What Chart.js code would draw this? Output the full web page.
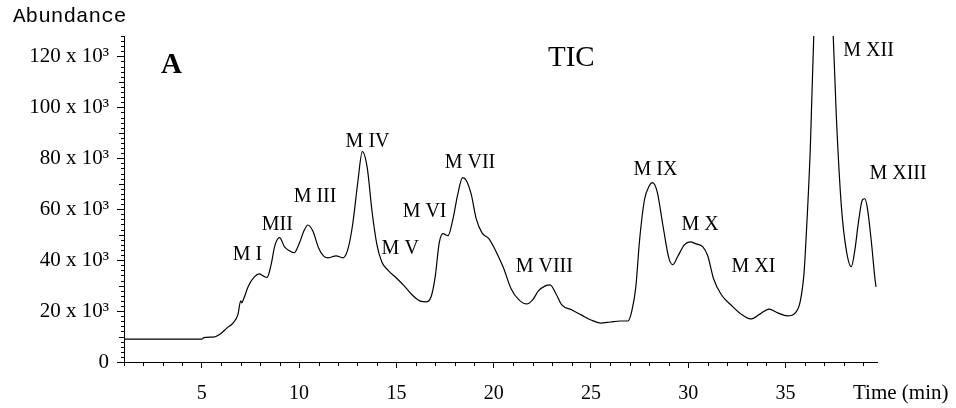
<!DOCTYPE html>
<html>
<head>
<meta charset="utf-8">
<script src="https://cdn.jsdelivr.net/npm/chart.js@4.4.1/dist/chart.umd.min.js"></script>
<style>
  html, body { margin: 0; padding: 0; background: #fff; }
  #wrap { width: 956px; height: 408px; }
</style>
</head>
<body>
<div id="wrap"><canvas id="c" width="956" height="408"></canvas></div>
<script>
// Retention time (min)
const times = [
  1.0, 5.0, 5.1, 5.6, 5.95, 6.3, 6.6, 6.85, 7.0, 7.05, 7.15, 7.4, 7.7, 7.95, 8.15, 8.35,
  8.55, 8.75, 9.0, 9.25, 9.5, 9.75, 10.0, 10.25, 10.45, 10.7, 11.0, 11.25, 11.5, 11.9,
  12.25, 12.5, 12.75, 13.0, 13.25, 13.5, 13.75, 14.0, 14.25, 14.6, 15.0, 15.4, 15.8,
  16.2, 16.55, 16.8, 17.0, 17.2, 17.4, 17.65, 17.9, 18.15, 18.4, 18.6, 18.85, 19.1,
  19.4, 19.75, 20.1, 20.5, 20.9, 21.3, 21.7, 22.0, 22.3, 22.65, 22.9, 23.2, 23.5,
  24.0, 24.5, 25.0, 25.5, 26.0, 26.5, 26.9, 27.1, 27.3, 27.5, 27.75, 28.0, 28.15,
  28.4, 28.7, 29.0, 29.2, 29.45, 29.8, 30.1, 30.4, 30.75, 31.0, 31.3, 31.7, 32.2,
  32.7, 33.2, 33.7, 34.15, 34.6, 35.1, 35.5, 35.75, 35.95, 36.07, 36.27, 36.45, 36.7,
  36.95, 37.2, 37.45, 37.61, 37.87, 38.12, 38.38, 38.55, 38.75, 38.95, 39.07, 39.2,
  39.4, 39.6, 39.65
];
// Total ion current abundance (x 10^3)
const abundance = [
  9.0, 9.0, 9.6, 9.8, 11.0, 13.4, 15.3, 18.5, 24.0, 23.2, 24.8, 29.9, 33.4, 34.6, 33.8, 33.2,
  37.8, 45.6, 48.8, 45.2, 43.7, 42.9, 46.4, 51.5, 53.8, 51.5, 44.8, 41.7, 40.9, 41.7,
  40.9, 44.1, 53.9, 69.6, 82.6, 76.3, 59.0, 46.0, 39.3, 35.8, 33.0, 29.9, 26.4,
  24.0, 23.6, 26.0, 33.8, 46.8, 50.4, 49.6, 55.9, 65.7, 72.4, 71.2, 65.7, 56.3,
  50.7, 48.4, 43.7, 37.0, 28.7, 24.4, 22.8, 24.4, 27.9, 29.9, 30.3, 26.8, 22.4,
  20.5, 18.5, 16.5, 15.3, 15.7, 16.1, 16.1, 20.1, 29.1, 48.0, 63.7, 69.2, 70.4,
  66.9, 53.5, 40.9, 38.2, 41.3, 46.0, 47.2, 46.4, 45.2, 41.7, 32.7, 26.4, 22.4,
  18.9, 16.9, 18.9, 20.8, 19.3, 18.1, 19.3, 23.6, 35.0, 50.7, 83.4, 128.0, 165.0,
  178.0, 165.0, 128.0, 96.4, 61.0, 44.0, 37.4, 43.3, 55.1, 63.7, 64.1, 60.6,
  48.0, 32.3, 29.5
];
// Axis tick settings
const yTickValues = [0, 20, 40, 60, 80, 100, 120];
const xTickValues = [5, 10, 15, 20, 25, 30, 35];
const X_MIN = 1, X_MAX = 39.7, Y_MIN = 0, Y_MAX = 128;
// Peak annotations (label, time, abundance at label baseline-left)
const peakNames = ['M I', 'MII', 'M III', 'M IV', 'M V', 'M VI', 'M VII', 'M VIII', 'M IX', 'M X', 'M XI', 'M XII', 'M XIII'];
const peakTimes = [6.59, 8.08, 9.72, 12.39, 14.24, 15.32, 17.48, 21.13, 27.19, 29.65, 32.22, 37.97, 39.31];
const peakLevels = [40.1, 51.9, 62.9, 84.6, 42.5, 57.0, 76.3, 35.4, 73.6, 51.9, 35.4, 120.0, 72.0];

const SERIF = '"Liberation Serif", "Times New Roman", serif';

const points = times.map((t, i) => ({ x: t, y: abundance[i] }));

const decor = {
  id: 'decor',
  afterDraw(chart) {
    const { ctx, chartArea, scales } = chart;
    const x = scales.x, y = scales.y;
    ctx.save();
    ctx.strokeStyle = '#000';
    ctx.lineWidth = 1;
    ctx.beginPath();
    for (let v = Y_MIN; v <= Y_MAX; v += 2) {
      if (v % 20 === 0) continue;
      const len = v % 10 === 0 ? 5 : 3;
      const py = Math.round(y.getPixelForValue(v)) + 0.5;
      ctx.moveTo(chartArea.left - len, py);
      ctx.lineTo(chartArea.left, py);
    }
    for (let t = 1; t <= 39; t++) {
      if (t % 5 === 0) continue;
      const px = Math.round(x.getPixelForValue(t)) + 0.5;
      ctx.moveTo(px, chartArea.bottom);
      ctx.lineTo(px, chartArea.bottom + 4);
    }
    ctx.stroke();

    ctx.fillStyle = '#000';
    ctx.textBaseline = 'alphabetic';
    ctx.textAlign = 'left';
    ctx.font = '20px ' + SERIF;
    peakNames.forEach((name, i) => {
      ctx.fillText(name, x.getPixelForValue(peakTimes[i]), y.getPixelForValue(peakLevels[i]));
    });

    ctx.font = '21px "Liberation Mono", "DejaVu Sans Mono", monospace';
    ctx.fillText('Abundance', 13, 22);
    ctx.font = 'bold 29px ' + SERIF;
    ctx.fillText('A', 161, 73);
    ctx.font = '29px ' + SERIF;
    ctx.fillText('TIC', 548, 66);
    ctx.font = '21px ' + SERIF;
    ctx.fillText('Time (min)', 853, 399);
    ctx.restore();
  }
};

new Chart(document.getElementById('c'), {
  type: 'line',
  data: {
    datasets: [{
      data: points,
      borderColor: '#000',
      borderWidth: 1.2,
      pointRadius: 0,
      fill: false,
      cubicInterpolationMode: 'monotone'
    }]
  },
  options: {
    responsive: false,
    animation: false,
    devicePixelRatio: 1,
    parsing: true,
    layout: { padding: { left: 0, right: 79, top: 36, bottom: 0 } },
    plugins: { legend: { display: false }, tooltip: { enabled: false } },
    scales: {
      x: {
        type: 'linear',
        min: X_MIN,
        max: X_MAX,
        afterFit: s => { s.height = 46; },
        afterBuildTicks: s => { s.ticks = xTickValues.map(v => ({ value: v })); },
        border: { color: '#000', width: 1 },
        grid: { drawOnChartArea: false, drawTicks: true, tickLength: 6, tickColor: '#000' },
        ticks: {
          color: '#000',
          font: { family: SERIF, size: 20 },
          padding: 14,
          maxRotation: 0,
          autoSkip: false,
          callback: v => String(v)
        }
      },
      y: {
        type: 'linear',
        min: Y_MIN,
        max: Y_MAX,
        afterFit: s => { s.width = 124; },
        afterBuildTicks: s => { s.ticks = yTickValues.map(v => ({ value: v })); },
        border: { color: '#000', width: 1 },
        grid: { drawOnChartArea: false, drawTicks: true, tickLength: 7, tickColor: '#000' },
        ticks: {
          color: '#000',
          font: { family: SERIF, size: 21 },
          padding: 8,
          autoSkip: false,
          callback: v => (v === 0 ? '0' : v + ' x 10\u00B3')
        }
      }
    }
  },
  plugins: [decor]
});
</script>
</body>
</html>
